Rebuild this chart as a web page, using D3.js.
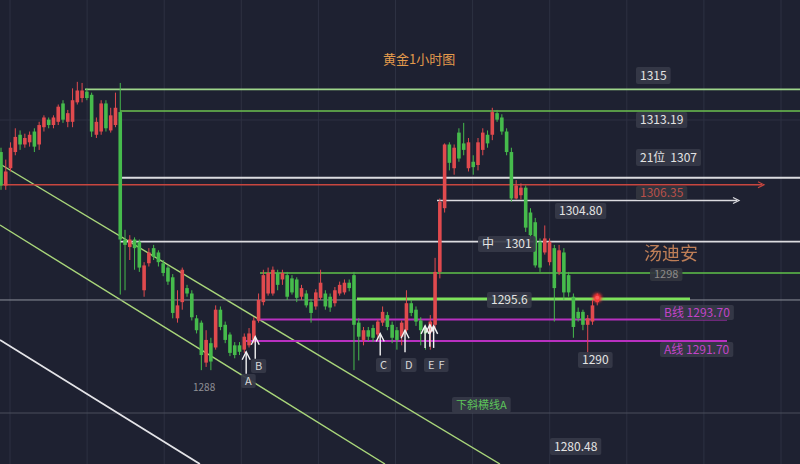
<!DOCTYPE html>
<html><head><meta charset="utf-8">
<script src="https://cdn.jsdelivr.net/npm/d3@7"></script>
<style>
html,body{margin:0;padding:0;background:#1e2131;}
svg{display:block;}
text{font-family:"Noto Sans CJK SC","Noto Sans",sans-serif;}
</style></head>
<body>
<svg id="c" width="800" height="464"></svg>
<script>
// ---- candle data (gold, 1 hour) ----
const opens = [1309.2,1306.1,1307.7,1309.2,1310.8,1309.9,1310.1,1311.1,1309.9,1311.5,1312.2,1311.7,1312.0,1313.7,1312.0,1312.0,1313.8,1314.2,1314.8,1314.5,1310.8,1311.1,1313.7,1311.2,1311.7,1312.9,
1301.1,1300.4,1301.1,1300.9,1296.4,1298.9,1300.3,1299.9,1298.9,1298.5,1297.6,1293.8,1295.3,1296.6,1296.1,1293.8,1293.4,1289.7,1291.5,1291.1,1294.6,1293.2,1292.3,1291.3,1291.3,1290.9,1291.3,1291.8,
1293.6,1295.3,1296.1,1296.1,1298.0,1297.4,1297.8,1297.5,1297.4,1295.8,1296.1,1295.3,1294.9,1295.7,1296.1,1295.8,1295.2,1296.1,1296.2,1297.1,1297.8,1293.4,1291.8,1292.7,1292.9,1292.3,1293.4,1294.1,1293.2,1292.7,1292.1,1292.7,1295.2,1294.6,1293.6,1292.9,1292.5,
1293.2,1298.1,1304.0,1309.9,1307.7,1311.0,1310.0,1307.7,1308.3,1308.0,1309.4,1310.8,1310.8,1312.8,1312.4,1311.1,1309.2,1304.9,1305.2,1305.9,1303.6,1302.7,1300.9,1299.9,1299.0,1300.3,1298.1,1299.9,1297.8,1295.8,1294.4,1294.4,1293.2,1293.5,1295.3];
const highs = [1309.6,1308.5,1310.1,1311.4,1311.2,1310.9,1311.1,1311.4,1312.0,1312.6,1312.4,1312.6,1313.6,1314.0,1313.1,1315.1,1315.7,1315.6,1315.1,1314.7,1312.4,1314.0,1314.0,1313.3,1314.7,1315.6,
1302.0,1301.5,1301.3,1301.1,1299.0,1300.3,1300.6,1300.1,1299.2,1298.7,1297.9,1296.4,1298.5,1296.9,1296.4,1294.1,1293.6,1292.7,1292.0,1295.0,1294.9,1293.5,1292.5,1291.6,1291.6,1292.4,1292.9,1293.9,
1296.1,1298.3,1298.5,1298.6,1298.3,1298.3,1298.1,1297.8,1297.6,1296.9,1296.4,1295.6,1296.5,1298.3,1296.4,1296.1,1296.7,1297.2,1297.4,1297.4,1298.1,1293.8,1293.0,1293.0,1293.2,1293.7,1294.9,1294.4,1293.5,1293.0,1293.6,1296.4,1295.5,1294.9,1293.9,1293.2,1294.1,
1299.4,1304.9,1310.0,1310.1,1309.9,1311.4,1311.9,1310.5,1308.9,1310.5,1311.4,1311.2,1313.3,1313.1,1312.7,1311.4,1309.6,1306.6,1306.3,1306.1,1304.0,1303.1,1301.2,1302.4,1301.2,1300.6,1300.6,1300.3,1298.1,1296.1,1294.8,1294.6,1294.1,1295.5,1296.1];
const lows = [1305.7,1305.7,1307.4,1308.9,1309.4,1309.6,1309.7,1309.2,1309.4,1311.1,1311.4,1311.4,1311.7,1311.9,1311.5,1311.5,1313.6,1313.8,1314.0,1310.6,1310.5,1310.8,1311.1,1311.0,1311.5,1296.0,
1296.4,1299.2,1298.3,1298.1,1295.8,1298.6,1299.2,1298.6,1297.7,1296.9,1293.8,1293.4,1294.6,1295.8,1293.6,1292.4,1289.0,1289.3,1289.0,1290.9,1292.7,1291.5,1290.3,1290.1,1290.4,1290.6,1291.1,1291.5,
1293.4,1295.0,1295.9,1295.9,1296.4,1296.9,1295.5,1296.0,1295.3,1295.5,1294.8,1293.4,1294.6,1295.5,1294.6,1294.4,1294.9,1295.9,1296.0,1296.3,1289.0,1289.9,1291.3,1291.7,1291.6,1291.8,1293.1,1292.7,1291.5,1290.9,1291.3,1292.4,1294.0,1293.1,1291.3,1290.9,1290.9,
1292.7,1297.5,1303.6,1307.5,1307.1,1308.3,1308.9,1307.4,1307.1,1307.5,1308.9,1309.6,1310.3,1312.0,1310.8,1308.9,1304.6,1304.8,1304.8,1301.8,1301.1,1298.5,1298.1,1299.7,1298.7,1293.5,1297.8,1295.5,1295.8,1292.0,1293.5,1292.7,1290.4,1293.2,1295.0];
const closes = [1306.1,1307.4,1309.6,1310.6,1309.9,1310.5,1310.8,1309.7,1311.7,1312.4,1311.7,1312.4,1313.4,1312.2,1312.8,1314.0,1314.9,1314.9,1314.2,1311.1,1312.0,1313.7,1311.4,1312.6,1313.3,1301.1,
1300.6,1301.1,1300.3,1298.5,1298.7,1299.9,1299.5,1299.0,1298.0,1297.2,1294.3,1295.0,1298.3,1296.1,1293.9,1292.7,1290.4,1291.8,1289.8,1294.6,1293.0,1291.8,1290.6,1290.4,1290.7,1292.1,1292.4,1293.6,
1295.5,1297.8,1298.0,1298.3,1296.9,1298.0,1295.8,1296.2,1295.7,1296.6,1295.0,1294.3,1296.2,1297.1,1294.9,1294.8,1296.4,1296.9,1297.1,1296.6,1293.2,1292.1,1292.7,1292.1,1292.0,1293.5,1294.4,1293.0,1292.0,1291.8,1293.4,1295.2,1294.3,1293.5,1292.7,1292.4,1293.5,
1298.1,1304.6,1309.9,1308.2,1309.6,1308.6,1309.4,1310.1,1307.8,1310.1,1311.0,1310.0,1312.9,1312.2,1311.1,1309.2,1304.9,1306.1,1305.9,1302.2,1301.5,1298.7,1298.5,1301.2,1300.9,1296.6,1300.1,1296.2,1296.2,1293.0,1293.8,1293.2,1293.8,1295.0,1295.8];

// ---- key levels ----
const levelValues = [1315, 1313.19, 1307, 1306.35, 1304.80, 1301, 1298, 1295.6, 1293.70, 1291.70];
const currentPrice = 1295.5;
// ---- trend lines [index, price] ----
const trendUpper = [[-0.21, 1308.09], [104.6, 1280.31]];
const trendLower = [[-0.21, 1302.44], [80.5, 1280.31]];
const trendWhite = [[-0.21, 1291.80], [41.7, 1280.31]];
// ---- arrows: candle index, tip price ----
const arrowIdx = [51.4, 53.3, 79.5, 84.7, 88.9, 89.9, 90.7];
const arrowTip = [1290.7, 1292.1, 1292.4, 1292.7, 1293.1, 1293.2, 1293.1];

const svg = d3.select('#c');
const x = d3.scaleLinear().domain([0, 125]).range([1, 597.25]);
const y = d3.scaleLinear().domain([1280.31, 1323.28]).range([464, 0]);

// grid
const grid = svg.append('g');
d3.range(11).forEach(k => {
  const gx = 10 + k * 77.1;
  grid.append('line').attr('x1', gx).attr('x2', gx).attr('y1', 0).attr('y2', 464)
    .attr('stroke', '#2d3142').attr('stroke-width', 1);
});
[120].forEach(gy => grid.append('line').attr('x1', 0).attr('x2', 800).attr('y1', gy).attr('y2', gy)
  .attr('stroke', '#2d3142').attr('stroke-width', 1));
grid.append('line').attr('x1', 0).attr('x2', 800).attr('y1', 413).attr('y2', 413)
  .attr('stroke', '#4a4e5c').attr('stroke-width', 1);

// trend lines
const tl = d3.line().x(d => x(d[0])).y(d => y(d[1]));
svg.append('path').attr('d', tl(trendUpper)).attr('stroke', '#a9d67a').attr('stroke-width', 1.4).attr('fill', 'none');
svg.append('path').attr('d', tl(trendLower)).attr('stroke', '#a9d67a').attr('stroke-width', 1.4).attr('fill', 'none');
svg.append('path').attr('d', tl(trendWhite)).attr('stroke', '#e4e4e8').attr('stroke-width', 1.8).attr('fill', 'none');

// current price line
svg.append('line').attr('x1', 0).attr('x2', 800).attr('y1', y(currentPrice)).attr('y2', y(currentPrice))
  .attr('stroke', '#8e929c').attr('stroke-width', 1);

// levels styling (positions in px; dy nudges to the drawn position)
const levelStyle = [
  {x0: 85, x1: 800, c: '#9ed58a', w: 1.6, dy: 0},
  {x0: 120, x1: 800, c: '#6cc24f', w: 1.6, dy: 2},
  {x0: 120, x1: 800, c: '#dcdce0', w: 2, dy: 2},
  {x0: 0, x1: 762, c: '#c8463f', w: 1.6, arrow: true, dy: 2},
  {x0: 437, x1: 737, c: '#dcdce0', w: 1.6, arrow: true, dy: 1},
  {x0: 120, x1: 800, c: '#dcdce0', w: 1.6, dy: 1},
  {x0: 260, x1: 800, c: '#5fc24a', w: 1.6, dy: 0},
  {x0: 357, x1: 690, c: '#7de25a', w: 2.6, dy: 0},
  {x0: 257, x1: 727, c: '#b830c0', w: 2, dy: 0},
  {x0: 245, x1: 727, c: '#b830c0', w: 2, dy: 0}
];
const lv = svg.append('g');
levelValues.forEach((v, i) => {
  const s = levelStyle[i], yy = y(v) + s.dy;
  lv.append('line').attr('x1', s.x0).attr('x2', s.x1).attr('y1', yy).attr('y2', yy)
    .attr('stroke', s.c).attr('stroke-width', s.w);
  if (s.arrow) {
    lv.append('path').attr('d', `M${s.x1-4},${yy-3}L${s.x1+2},${yy}L${s.x1-4},${yy+3}`)
      .attr('stroke', s.c).attr('stroke-width', 1.2).attr('fill', 'none');
  }
});

// candles
const n = opens.length;
const cg = svg.append('g');
d3.range(n).forEach(i => {
  const up = closes[i] >= opens[i];
  const col = up ? '#e04a4e' : '#46bb4c';
  const cx = x(i);
  cg.append('line').attr('x1', cx).attr('x2', cx).attr('y1', y(highs[i])).attr('y2', y(lows[i]))
    .attr('stroke', col).attr('stroke-width', 1);
  const top = y(Math.max(opens[i], closes[i])), bot = y(Math.min(opens[i], closes[i]));
  cg.append('rect').attr('x', cx - 1.8).attr('width', 3.6).attr('y', top).attr('height', Math.max(1, bot - top))
    .attr('fill', col);
});

// last price marker
const defs = svg.append('defs');
const f = defs.append('filter').attr('id', 'glow').attr('x', '-100%').attr('y', '-100%').attr('width', '300%').attr('height', '300%');
f.append('feGaussianBlur').attr('stdDeviation', 1.6);
svg.append('circle').attr('cx', x(n - 1)).attr('cy', y(closes[n - 1]) + 1).attr('r', 4.5).attr('fill', '#ff3030').attr('filter', 'url(#glow)');
svg.append('circle').attr('cx', x(n - 1)).attr('cy', y(closes[n - 1]) + 1).attr('r', 2).attr('fill', '#ff5a5a');

// arrows
const ag = svg.append('g');
arrowIdx.forEach((ai, k) => {
  const ax = x(ai), ty = y(arrowTip[k]);
  ag.append('line').attr('x1', ax).attr('x2', ax).attr('y1', ty).attr('y2', ty + 22)
    .attr('stroke', '#f2f2f2').attr('stroke-width', 1.4);
  ag.append('path').attr('d', `M${ax-4},${ty+8}L${ax},${ty}L${ax+4},${ty+8}`)
    .attr('stroke', '#f2f2f2').attr('stroke-width', 1.4).attr('fill', 'none');
});

// labels
function boxLabel(parts, left, top, h, fs, color, bg) {
  const g = svg.append('g');
  const rect = g.append('rect').attr('x', left).attr('y', top).attr('height', h).attr('rx', 2)
    .attr('fill', bg || '#363a48').attr('opacity', 0.92);
  let cx = left + 4;
  parts.forEach((p, j) => {
    const t = g.append('text').attr('x', cx).attr('y', top + h / 2).attr('dy', '0.36em')
      .attr('font-size', fs).attr('fill', p.c || color).text(p.t);
    cx += t.node().getComputedTextLength() + (p.gap || 0);
  });
  rect.attr('width', cx - left + 4);
}
boxLabel([{t: '1315'}], 636, 67, 17, 12, '#e4e4e4');
boxLabel([{t: '1313.19'}], 636, 112, 16, 12, '#e4e4e4');
boxLabel([{t: '21位', gap: 5}, {t: '1307'}], 636, 149, 17, 12, '#e4e4e4');
boxLabel([{t: '1306.35'}], 636, 186, 14, 12, '#b8504a', '#33363f');
boxLabel([{t: '1304.80'}], 555, 203, 16, 12, '#e4e4e4');
boxLabel([{t: '中', gap: 11}, {t: '1301'}], 478, 236, 16, 12, '#e4e4e4');
boxLabel([{t: '1298'}], 650, 268, 13, 11, '#8d8a8a', '#33363f');
boxLabel([{t: '1295.6'}], 487, 292, 16, 12, '#e4e4e4');
boxLabel([{t: 'B线 1293.70'}], 660, 305, 15, 12, '#c244c8');
boxLabel([{t: 'A线 1291.70'}], 660, 342, 15, 12, '#c244c8');
boxLabel([{t: '1290'}], 578, 352, 16, 12, '#e4e4e4');
boxLabel([{t: '1280.48'}], 550, 438, 17, 12, '#e4e4e4');
boxLabel([{t: '下斜横线A'}], 452, 397, 16, 11, '#5dc55a');
boxLabel([{t: 'A'}], 241, 374, 14, 11, '#d8d8d8');
boxLabel([{t: 'B'}], 251, 359, 14, 11, '#d8d8d8');
boxLabel([{t: 'C'}], 376, 358, 14, 11, '#d8d8d8');
boxLabel([{t: 'D'}], 401, 358, 14, 11, '#d8d8d8');
boxLabel([{t: 'E', gap: 4}, {t: 'F'}], 424, 358, 14, 11, '#d8d8d8');

svg.append('text').attr('x', 193).attr('y', 391).attr('font-size', 10).attr('fill', '#8f9096').text('1288');
svg.append('text').attr('x', 383).attr('y', 64).attr('font-size', 13).attr('fill', '#e39a4c').text('黄金1小时图');
svg.append('text').attr('x', 644).attr('y', 260).attr('font-size', 18).attr('fill', '#d0895c').attr('opacity', 0.9).text('汤迪安');
</script>
</body></html>
